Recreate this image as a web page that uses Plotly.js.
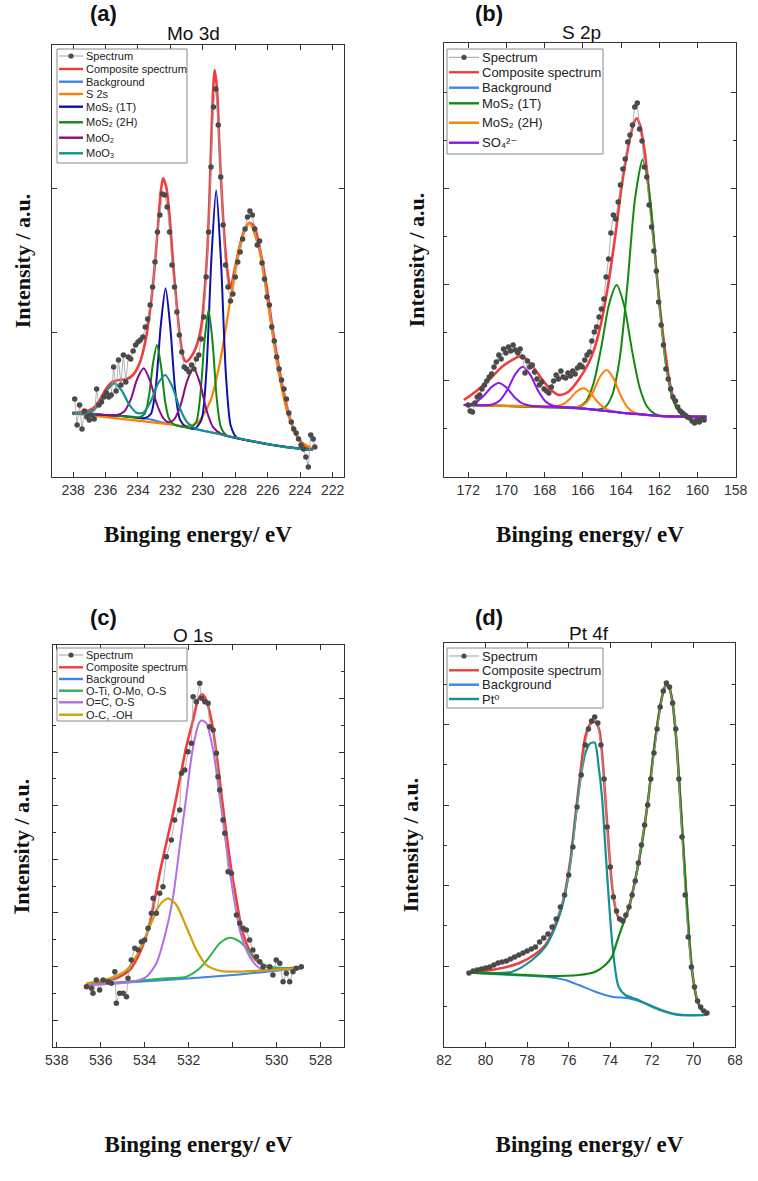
<!DOCTYPE html>
<html><head><meta charset="utf-8">
<script src="https://cdn.plot.ly/plotly-3.0.1.min.js"></script>
<style>html,body{margin:0;padding:0;background:#fff}#chart{width:758px;height:1181px}</style>
</head><body><div id="chart"></div>
<script>
// ---------------- Panel (a) Mo 3d ----------------
const a_spec_x = [237.90,237.75,237.60,237.45,237.30,237.15,237.00,236.85,236.70,236.55,236.40,236.25,236.10,235.95,235.80,235.65,235.50,235.35,235.20,235.05,234.90,234.75,234.60,234.45,234.30,234.15,234.00,233.85,233.70,233.55,233.40,233.25,233.10,232.95,232.80,232.65,232.50,232.35,232.20,232.05,231.90,231.75,231.60,231.45,231.30,231.15,231.00,230.85,230.70,230.55,230.40,230.25,230.10,229.95,229.80,229.65,229.50,229.35,229.20,229.05,228.90,228.75,228.60,228.45,228.30,228.15,228.00,227.85,227.70,227.55,227.40,227.25,227.10,226.95,226.80,226.65,226.50,226.35,226.20,226.05,225.90,225.75,225.60,225.45,225.30,225.15,225.00,224.85,224.70,224.55,224.40,224.25,224.10,223.95,223.80,223.65,223.50,223.35,223.20,223.10];
const a_spec_y = [78,52,72,48,66,60,57,62,58,88,72,75,80,84,80,82,110,86,117,92,122,95,120,118,126,132,135,137,140,150,158,172,190,215,245,262,283,282,270,245,212,190,165,142,125,110,108,105,112,108,118,122,138,160,200,245,310,370,388,352,300,252,212,190,176,183,200,215,225,238,248,260,266,262,248,232,236,214,198,180,172,150,136,120,108,97,88,78,64,55,48,44,38,32,28,20,10,42,38,30];
const a_comp_x = [238.04,237.38,236.77,236.36,235.95,235.54,235.13,234.72,234.31,233.90,233.49,233.18,232.97,232.77,232.61,232.46,232.26,232.05,231.85,231.64,231.44,231.19,231.03,230.72,230.41,230.10,229.90,229.69,229.53,229.38,229.28,229.14,228.97,228.77,228.52,228.30,228.05,227.74,227.44,227.13,226.82,226.51,226.10,225.69,225.28,224.87,224.46,224.05,223.64,223.23];
const a_comp_y = [64.3,65.3,68.7,77,88.7,95.3,97,97.7,102,113.7,140.3,177,210.3,250.3,282.7,298.7,290.3,260.3,217,177,143.7,118.7,115.3,120.3,130.3,150.3,183.7,237,310.3,383.7,407,390.3,327,263.7,210.3,188.7,207,230.3,247,254.3,250.3,230.3,193.7,147,107,73.7,50.3,37,30.3,27.7];
const a_bg_x = [238.04,236.36,234.31,233.28,232.26,231.23,230.21,229.18,228.15,227.13,226.10,225.08,224.05,223.23];
const a_bg_y = [63.7,62.3,60.3,57.7,53.7,50.3,47,43.7,39.7,36.3,33,30.3,28.3,27];
const a_s2s_x = [238.04,232.0,231.13,230.33,229.53,228.93,228.33,227.73,227.13,226.53,225.93,225.33,224.73,223.93,223.23];
const a_s2s_y = [63.7,52.7,50.9,54.4,76.2,116.1,174.7,231.3,254.2,227.4,166.7,104.4,61,35.2,28.5];
const a_1t_x = [238.04,235.0,233.6,233.2,232.9,232.6,232.3,232.0,231.7,231.4,231.0,230.5,230.08,229.78,229.48,229.18,228.88,228.58,228.28,227.9,227.0,225.0,223.23];
const a_1t_y = [63.7,61,58.7,63.3,90.2,150.6,188.7,148.3,85.7,56.9,49.9,48.3,57.5,106.6,216.6,286.6,214.6,102.5,51.2,39.2,36,30.2,27];
const a_2h_x = [238.04,235.0,233.93,233.58,233.33,233.08,232.83,232.58,232.33,232.08,231.73,231.0,230.75,230.4,230.15,229.9,229.65,229.4,229.15,228.9,228.55,227.0,225.0,223.23];
const a_2h_y = [63.7,61,59.6,63.4,80.1,113,132,111,76.2,57.9,52.1,49.7,49.2,55.4,82.8,136,167.2,134.4,79.5,50.4,41.8,36,30.2,27];
const a_moo2_x = [238.04,236.0,235.35,234.85,234.45,234.05,233.65,233.25,232.85,232.45,232.1,231.77,231.37,230.97,230.57,230.17,229.77,229.37,228.87,228.0,226.0,223.23];
const a_moo2_y = [63.7,62,61.7,65.5,77.4,98,108.7,96,73.5,59.1,54.7,57.6,71.8,96.1,108.7,93.4,66.5,49.8,43,39.2,32.7,27];
const a_moo3_x = [238.04,237.34,236.79,236.34,235.89,235.44,234.99,234.54,234.09,233.67,233.22,232.77,232.32,231.87,231.42,230.97,230.42,229.0,227.0,225.0,223.23];
const a_moo3_y = [63.7,63.6,66.3,74.4,87.1,93.7,86.2,72.5,64.2,64.3,75.2,93.2,102,89.9,68.8,54.8,48.3,43,36,30.2,27];
const a_ticks = [238,236,234,232,230,228,226,224,222];

// ---------------- Panel (b) S 2p ----------------
const b_spec_x = [172.00,171.90,171.78,171.65,171.53,171.40,171.28,171.15,171.03,170.90,170.78,170.65,170.53,170.40,170.28,170.15,170.03,169.90,169.78,169.65,169.53,169.40,169.28,169.15,169.03,168.90,168.78,168.65,168.53,168.40,168.28,168.15,168.03,167.90,167.78,167.65,167.53,167.40,167.28,167.15,167.03,166.90,166.78,166.65,166.53,166.40,166.28,166.15,166.03,165.90,165.78,165.65,165.53,165.40,165.28,165.15,165.03,164.90,164.78,164.65,164.53,164.40,164.28,164.15,164.03,163.90,163.78,163.65,163.53,163.40,163.28,163.15,163.03,162.90,162.78,162.65,162.53,162.40,162.28,162.15,162.03,161.90,161.78,161.65,161.53,161.40,161.28,161.15,161.03,160.90,160.78,160.65,160.53,160.40,160.28,160.15,160.03,159.90,159.78,159.65];
const b_spec_y = [72,66,65,74,80,82,88,92,96,100,103,110,115,122,118,128,124,130,126,132,127,124,128,120,104,116,110,112,105,98,92,95,88,86,84,90,96,102,98,106,100,99,104,101,106,103,109,112,110,117,122,125,136,145,150,160,168,178,200,218,244,262,258,275,292,308,318,335,342,352,370,374,348,336,310,300,272,250,226,206,175,152,132,108,98,88,80,76,70,66,64,62,60,59,56,54,57,55,58,57];
const b_comp_x = [172.23,171.62,170.92,170.23,169.70,169.36,169.01,168.49,167.97,167.44,167.18,166.75,166.23,165.70,165.36,165.01,164.66,164.31,163.97,163.62,163.36,163.18,163.01,162.75,162.49,162.23,161.97,161.70,161.44,161.18,160.83,160.49,159.97,159.53];
const b_comp_y = [77,85.3,97,110.3,117,120.3,118.7,107,93.7,83.7,82,85.3,97,113.7,130.3,157,193.7,240.3,290.3,330.3,352,358.7,352,323.7,277,223.7,170.3,127,93.7,73.7,63.7,61,60.3,60.3];
const b_bg_x = [172.23,169.0,167.97,166.23,164.49,162.75,161.0,159.53];
const b_bg_y = [72,70.9,70.3,68.7,65.3,62,60.3,60.3];
const b_1t_a_x = [172.23,166.0,165.37,164.87,164.47,164.07,163.67,163.27,162.87,162.47,162.07,161.67,161.27,160.87,160.37,159.53];
const b_1t_a_y = [72,68.5,67.5,69.3,81.5,118.4,191.5,277.8,317.6,276.5,188.7,114.5,76.5,63.6,60.6,60.3];
const b_1t_b_x = [172.23,167.0,166.73,166.23,165.83,165.43,165.03,164.63,164.23,163.83,163.43,163.03,162.63,162.23,161.73,159.53];
const b_1t_b_y = [72,69.8,69.6,70.2,75.7,94.2,130.3,172.6,192,171.1,127.1,89.7,70.2,63.2,61,60.3];
const b_2h_a_x = [172.23,168.0,167.87,167.37,167.02,166.67,166.32,165.97,165.62,165.27,164.92,164.57,164.07,163.0,162.0,161.0,159.53];
const b_2h_a_y = [72,70.4,70.4,70.8,73,78.3,85.5,88.7,84.2,76,69.6,66.3,64.5,62.7,61,60.4,60.3];
const b_2h_b_x = [172.23,167.0,166.65,166.15,165.8,165.45,165.1,164.75,164.4,164.05,163.7,163.35,162.85,162.0,161.0,159.53];
const b_2h_b_y = [72,69.8,69.5,70.4,74.6,85.5,100.3,107,98.8,82.7,70.6,64.9,62.7,61,60.4,60.3];
const b_so4_a_x = [172.23,172.0,171.6,171.2,170.8,170.4,170.0,169.6,169.2,168.8,168.3,167.0,166.0,165.0,164.0,163.0,162.0,161.0,159.53];
const b_so4_a_y = [72.3,72.6,74.9,80.9,89.6,93.9,89.4,80.3,74,71.4,70.5,69.8,68.5,66.5,64.3,62.7,61,60.4,60.3];
const b_so4_b_x = [172.23,171.25,170.75,170.35,169.95,169.55,169.15,168.75,168.35,167.95,167.55,167.05,166.0,165.0,164.0,163.0,162.0,161.0,159.53];
const b_so4_b_y = [72,71.7,72.5,76.5,87.2,102.4,110.2,102.1,86.6,75.6,71.2,69.9,68.5,66.5,64.3,62.7,61,60.4,60.3];
const b_ticks = [172,170,168,166,164,162,160,158];

// ---------------- Panel (c) O 1s ----------------
const c_spec_x = [536.65,536.42,536.35,536.20,536.05,535.89,535.67,535.52,535.36,535.29,535.14,534.98,534.83,534.76,534.61,534.45,534.30,534.15,534.00,533.85,533.70,533.62,533.47,533.32,533.17,533.02,532.79,532.64,532.41,532.33,532.18,532.03,531.88,531.80,531.65,531.50,531.42,531.27,531.12,531.05,530.89,530.74,530.67,530.59,530.44,530.36,530.21,530.06,529.83,529.68,529.53,529.38,529.23,529.08,528.92,528.77,528.62,528.32,528.17,528.02,527.86,527.71,527.56,527.41,527.26,527.11,526.88];
const c_spec_y = [60.3,58.7,53.7,67,57,67,65.3,63.7,75.3,43.7,53.7,53.7,50.3,68.7,87,98.7,97,105.3,107,118.7,133.7,148.7,133.7,153.7,160.3,190.3,207,227,237,273.7,277,295.3,303.7,350.3,345.3,363.7,348.7,345.3,343.7,320.3,317,293.7,270.3,257,227,213.7,175.3,173.7,132,123.7,118.7,117,107,97,90.3,85.3,80.3,80.3,72,87,83.7,65.3,73.7,65.3,75.3,78.7,80.3];
const c_comp_x = [536.65,536.05,535.29,534.68,534.23,533.85,533.55,533.32,533.02,532.71,532.41,532.11,531.80,531.58,531.39,531.20,530.97,530.74,530.52,530.29,530.06,529.83,529.61,529.38,529.08,528.77,528.47,528.02,527.56,526.88];
const c_comp_y = [63,65.3,68.7,77,93.7,117,147,173.7,203.7,233.7,267,300.3,327,347,352.7,347,327,293.7,253.7,213.7,177,147,120.3,103.7,90.3,83.7,80.3,78.7,78.7,79.7];
const c_bg_x = [536.65,533.02,529.98,528.47,526.88];
const c_bg_y = [62,67,72,75.3,78.7];
const c_oti_x = [536.65,533.02,532.11,531.50,531.05,530.59,530.14,529.68,529.23,528.77,528.32,526.88];
const c_oti_y = [62,68.7,70.3,78.7,90.3,103.7,109.3,105.3,95.3,85.3,80.3,78.7];
const c_oc_x = [536.65,534.53,533.92,533.47,533.02,532.71,532.41,532.11,531.80,531.50,531.35,531.20,530.89,530.59,530.29,529.98,529.68,529.38,529.08,528.77,528.47,526.88];
const c_oc_y = [62,65.3,70.3,83.7,117,150.3,200.3,250.3,300.3,325.3,326.3,323.7,297,250.3,200.3,153.7,117,97,85.3,78.7,77,78.7];
const c_oh_x = [536.65,535.59,534.83,534.23,533.77,533.32,532.94,532.56,532.11,531.65,531.20,530.59,529.98,526.88];
const c_oh_y = [63.7,68.7,77,97,120.3,142,148.7,142,120.3,97,82,76.3,75.3,78.7];
const c_tickvals = [538,536,534,532,530,528,526];
const c_ticktext = ['538','536','534','532','','530','528'];

// ---------------- Panel (d) Pt 4f ----------------
const d_spec_x = [80.80,80.60,80.40,80.20,80.00,79.80,79.60,79.40,79.20,79.00,78.80,78.60,78.40,78.20,78.00,77.80,77.60,77.40,77.20,77.00,76.80,76.60,76.40,76.20,76.00,75.80,75.60,75.40,75.20,75.05,74.90,74.75,74.60,74.45,74.30,74.15,74.00,73.85,73.70,73.55,73.40,73.25,73.10,72.95,72.80,72.65,72.50,72.35,72.20,72.05,71.90,71.75,71.60,71.45,71.30,71.15,71.00,70.85,70.70,70.55,70.40,70.25,70.10,69.95,69.80,69.65,69.50,69.35];
const d_spec_y = [74,76,77,78,79,80,82,84,85,86,88,90,92,94,96,98,100,105,109,113,120,128,140,152,172,200,240,272,302,318,326,330,324,302,268,220,180,150,136,128,126,132,140,152,166,184,202,222,242,268,294,318,340,356,364,360,344,318,268,210,152,110,80,60,46,40,36,34];
const d_comp_x = [80.80,79.52,78.40,77.60,77.12,76.64,76.24,75.92,75.68,75.44,75.20,74.96,74.72,74.53,74.37,74.21,74.05,73.89,73.73,73.57,73.44,73.28,73.09,72.80,72.48,72.16,71.92,71.68,71.49,71.33,71.17,71.01,70.85,70.69,70.53,70.37,70.21,70.05,69.84,69.60,69.36];
const d_comp_y = [74.3,77.7,83.7,93,102,122,148.7,187,230.3,273.7,310.3,323,325.3,317,287,240.3,193.7,157,137,127.7,126.3,129.7,140.3,167,203.7,250.3,293.7,330.3,352,362,359.7,345.3,313.7,267,213.7,160.3,110.3,73.7,48.7,37,33.7];
const d_bg_x = [80.80,78.72,77.12,76.16,75.52,74.72,73.92,73.12,72.32,71.52,71.04,70.40,69.36];
const d_bg_y = [74.3,72,70.3,67,62,55.3,50.3,48.7,43.7,37,33.7,32,32];
const d_pt_a_x = [80.80,78.72,77.76,77.12,76.64,76.24,75.92,75.68,75.44,75.20,74.96,74.75,74.56,74.40,74.24,74.08,73.92,73.76,73.60,73.28,72.64,72.00,71.36,70.72,69.36];
const d_pt_a_y = [74.3,75.3,87,100.3,120.3,147,183.7,227,267,293.7,303.7,304.3,280.3,250.3,200.3,150.3,107,77,60.3,52,47,40.3,35.3,32,32];
const d_pt_b_x = [80.80,78.72,77.12,75.52,74.72,74.24,73.92,73.68,73.44,73.12,72.80,72.48,72.16,71.92,71.68,71.49,71.33,71.17,71.01,70.85,70.69,70.53,70.37,70.21,70.05,69.84,69.60,69.36];
const d_pt_b_y = [74.3,72.7,71,72,75.3,82,90.3,105.3,119.7,138.7,167,203.7,250.3,293.7,330.3,352,362,359.7,345.3,313.7,267,213.7,160.3,110.3,73.7,48.7,37,33.7];
const d_ticks = [82,80,78,76,74,72,70,68];

// ---------------- build ----------------
const W = 758, H = 1181;
const fx = px => px / W;
const fy = py => 1 - py / H;
const P = {a:{x:'x',y:'y'}, b:{x:'x2',y:'y2'}, c:{x:'x3',y:'y3'}, d:{x:'x4',y:'y4'}};
const SANS = 'Liberation Sans, Arial, DejaVu Sans, sans-serif';
const SERIF = 'Liberation Serif, Times New Roman, serif';
const COL = {spec:'#4a4a4a', specLine:'#a0a0a0', comp:'#f03c3c', bg:'#3d85e6', orange:'#ff8000',
  navy:'#1010a8', green:'#118a11', purple:'#8a0a8a', teal:'#13908f', violet:'#8a14f0',
  oti:'#2fb350', oc:'#b46de8', oh:'#d0a00a', pt:'#13908f'};

const traces = [];
const legend = {a:[], b:[], c:[], d:[]};
function curve(p, x, y, name, color, width, inLegend) {
  traces.push({type:'scatter', mode:'lines', x:x, y:y, name:name, xaxis:P[p].x, yaxis:P[p].y,
    line:{color:color, width:width, shape:'spline', smoothing:0.7}, hoverinfo:'skip', showlegend:false});
  if (inLegend) legend[p].push({name:name, color:color, width:width});
}
function spectrum(p, x, y) {
  traces.push({type:'scatter', mode:'lines+markers', x:x, y:y, name:'Spectrum', xaxis:P[p].x, yaxis:P[p].y,
    line:{color:COL.specLine, width:0.8}, marker:{color:COL.spec, size:5.5}, hoverinfo:'skip', showlegend:false});
}

// (a)
legend.a.push({name:'Spectrum', spec:true});
curve('a', a_comp_x, a_comp_y, 'Composite spectrum', COL.comp, 2.6, true);
curve('a', a_bg_x, a_bg_y, 'Background', COL.bg, 2, true);
curve('a', a_s2s_x, a_s2s_y, 'S 2s', COL.orange, 2.2, true);
curve('a', a_1t_x, a_1t_y, 'MoS₂ (1T)', COL.navy, 2, true);
curve('a', a_2h_x, a_2h_y, 'MoS₂ (2H)', COL.green, 2, true);
curve('a', a_moo2_x, a_moo2_y, 'MoO₂', COL.purple, 2, true);
curve('a', a_moo3_x, a_moo3_y, 'MoO₃', COL.teal, 2.2, true);
spectrum('a', a_spec_x, a_spec_y);
// (b)
legend.b.push({name:'Spectrum', spec:true});
curve('b', b_comp_x, b_comp_y, 'Composite spectrum', COL.comp, 2.6, true);
curve('b', b_bg_x, b_bg_y, 'Background', COL.bg, 2, true);
curve('b', b_1t_a_x, b_1t_a_y, 'MoS₂ (1T)', COL.green, 2, true);
curve('b', b_1t_b_x, b_1t_b_y, 'MoS₂ (1T)', COL.green, 2, false);
curve('b', b_2h_a_x, b_2h_a_y, 'MoS₂ (2H)', COL.orange, 2, true);
curve('b', b_2h_b_x, b_2h_b_y, 'MoS₂ (2H)', COL.orange, 2, false);
curve('b', b_so4_a_x, b_so4_a_y, 'SO₄²⁻', COL.violet, 2, true);
curve('b', b_so4_b_x, b_so4_b_y, 'SO₄²⁻', COL.violet, 2, false);
spectrum('b', b_spec_x, b_spec_y);
// (c)
legend.c.push({name:'Spectrum', spec:true});
curve('c', c_comp_x, c_comp_y, 'Composite spectrum', COL.comp, 2.6, true);
curve('c', c_bg_x, c_bg_y, 'Background', COL.bg, 2, true);
curve('c', c_oti_x, c_oti_y, 'O-Ti, O-Mo, O-S', COL.oti, 2, true);
curve('c', c_oc_x, c_oc_y, 'O=C, O-S', COL.oc, 2, true);
curve('c', c_oh_x, c_oh_y, 'O-C, -OH', COL.oh, 2.2, true);
spectrum('c', c_spec_x, c_spec_y);
// (d)
legend.d.push({name:'Spectrum', spec:true});
curve('d', d_comp_x, d_comp_y, 'Composite spectrum', COL.comp, 2.6, true);
curve('d', d_bg_x, d_bg_y, 'Background', COL.bg, 2, true);
curve('d', d_pt_a_x, d_pt_a_y, 'Pt⁰', COL.pt, 2.2, true);
curve('d', d_pt_b_x, d_pt_b_y, 'Pt⁰ 4f7/2', COL.green, 2.2, false);
spectrum('d', d_spec_x, d_spec_y);

// ---------------- legends (drawn as boxes in paper space) ----------------
const LEG = {
  a:{box:[57,49,187,163], rows:[56,69,81.7,94,106.7,122.3,137.7,153.3], s0:59, s1:83, tx:85, fs:11},
  b:{box:[447,49,603,154], rows:[57.3,72.3,87.7,103.3,122.7,142.7], s0:449, s1:479, tx:481, fs:13},
  c:{box:[57,648,187,721], rows:[655,667.3,679,690.7,702.3,714.7], s0:59, s1:83, tx:85, fs:11},
  d:{box:[447,648,603,708], rows:[656,670.3,684.7,699], s0:449, s1:479, tx:481, fs:13}
};
const shapes = [], annotations = [];
Object.keys(LEG).forEach(function(p){
  const L = LEG[p];
  shapes.push({type:'rect', xref:'paper', yref:'paper', x0:fx(L.box[0]), x1:fx(L.box[2]), y0:fy(L.box[3]), y1:fy(L.box[1]),
    line:{color:'#888', width:1}, fillcolor:'rgba(255,255,255,0.95)', layer:'above'});
  legend[p].forEach(function(it, i){
    const ry = L.rows[i];
    if (it.spec) {
      shapes.push({type:'line', xref:'paper', yref:'paper', x0:fx(L.s0), x1:fx(L.s1), y0:fy(ry), y1:fy(ry), line:{color:COL.specLine, width:1}, layer:'above'});
      const cx = (L.s0 + L.s1) / 2, r = 2.6;
      shapes.push({type:'circle', xref:'paper', yref:'paper', x0:fx(cx - r), x1:fx(cx + r), y0:fy(ry + r), y1:fy(ry - r), fillcolor:COL.spec, line:{color:COL.spec, width:0}, layer:'above'});
    } else {
      shapes.push({type:'line', xref:'paper', yref:'paper', x0:fx(L.s0), x1:fx(L.s1), y0:fy(ry), y1:fy(ry), line:{color:it.color, width:2.4}, layer:'above'});
    }
    annotations.push({xref:'paper', yref:'paper', x:fx(L.tx), y:fy(ry), xanchor:'left', yanchor:'middle', showarrow:false,
      text:it.name, font:{family:SANS, size:L.fs, color:'#222'}, borderpad:0});
  });
});

// panel letters & titles
[['(a)',103,13],['(b)',489,13],['(c)',103,617],['(d)',489,617]].forEach(function(t){
  annotations.push({xref:'paper', yref:'paper', x:fx(t[1]), y:fy(t[2]), xanchor:'center', yanchor:'middle', showarrow:false,
    text:'<b>'+t[0]+'</b>', font:{family:SANS, size:22, color:'#111'}});
});
[['Mo 3d',193,34],['S 2p',581,33],['O 1s',193,635],['Pt 4f',589,633]].forEach(function(t){
  annotations.push({xref:'paper', yref:'paper', x:fx(t[1]), y:fy(t[2]), xanchor:'center', yanchor:'middle', showarrow:false,
    text:t[0], font:{family:SANS, size:19, color:'#111'}});
});
// small stray mark left of panel (c) y title
shapes.push({type:'line', xref:'paper', yref:'paper', x0:fx(15), x1:fx(15), y0:fy(905), y1:fy(914), line:{color:'#444', width:1.2}});

// ---------------- axes ----------------
const axBase = {showline:true, linecolor:'#333', linewidth:1.2, mirror:'allticks', ticks:'inside', ticklen:5,
  tickwidth:1, tickcolor:'#333', showgrid:false, zeroline:false, fixedrange:true};
const tickfont = {family:SANS, size:14, color:'#333'};
function xTitle(so) { return {text:'<b>Binging energy/ eV</b>', font:{family:SERIF, size:23, color:'#111'}, standoff:so}; }
function yTitle(so) { return {text:'<b>Intensity / a.u.</b>', font:{family:SERIF, size:22, color:'#111'}, standoff:so}; }
function xa(dom, range, vals, texts, anchor, so) {
  return Object.assign({}, axBase, {domain:dom, range:range, anchor:anchor, tickmode:'array', tickvals:vals,
    ticktext:texts || vals.map(String), tickfont:tickfont, title:xTitle(so)});
}
function ya(dom, range, anchor, so, extra) {
  return Object.assign({}, axBase, {domain:dom, range:range, anchor:anchor, showticklabels:false, title:yTitle(so)}, extra);
}
const minorY = (t0, dt) => ({ticks:'inside', ticklen:3, tickcolor:'#333', tick0:t0, dtick:dt});
const layout = {
  width:W, height:H, autosize:false, margin:{l:0,r:0,t:0,b:0}, paper_bgcolor:'#fff', plot_bgcolor:'#fff',
  showlegend:false, hovermode:false,
  xaxis: xa([fx(52), fx(344)], [239.3, 221.3], a_ticks, null, 'y', 28),
  yaxis: ya([fy(477), fy(45)], [0, 432], 'x', 14, {tickmode:'array', tickvals:[145, 289]}),
  xaxis2: xa([fx(444), fx(736)], [173.27, 157.98], b_ticks, null, 'y2', 28),
  yaxis2: ya([fy(477), fy(43)], [0, 434], 'x2', 12, {tick0:1, dtick:96, minor:minorY(1, 48)}),
  xaxis3: xa([fx(53), fx(344)], [538.17, 524.94], c_tickvals, c_ticktext, 'y3', 68),
  yaxis3: ya([fy(1047), fy(645)], [0, 402], 'x3', 16, {tick0:27, dtick:53.6, minor:minorY(27, 26.8)}),
  xaxis4: xa([fx(444), fx(735)], [82, 68], d_ticks, null, 'y4', 68),
  yaxis4: ya([fy(1047), fy(643)], [0, 404], 'x4', 18, {tick0:0.5, dtick:80.5, minor:minorY(0.5, 40.25)}),
  shapes: shapes, annotations: annotations
};
Plotly.newPlot('chart', traces, layout, {staticPlot:true, displayModeBar:false});
</script></body></html>
